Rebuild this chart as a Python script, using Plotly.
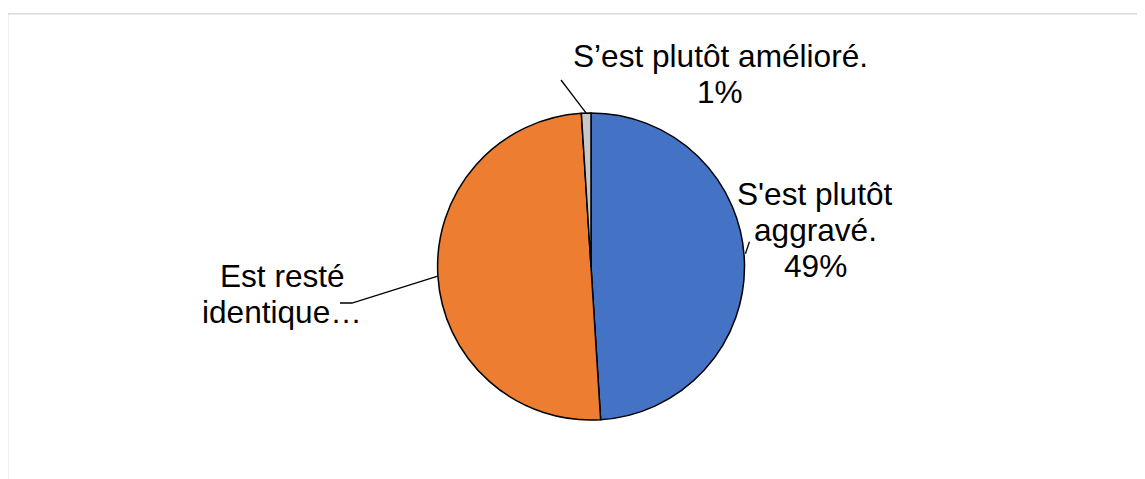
import math
import plotly.graph_objects as go

# ---- data ----
labels = ["S'est plutôt aggravé.", "Est resté identique", "S’est plutôt amélioré."]
values = [49, 50, 1]
label_lines = [
    ["S'est plutôt", "aggravé.", "49%"],
    ["Est resté", "identique…"],
    ["S’est plutôt amélioré.", "1%"],
]
colors = ["#4472C4", "#ED7D31", "#C8C8C8"]

# ---- layout geometry (pixels in the screenshot) ----
W, H = 1145, 479
OFF = 8  # default body margin of the page
CX, CY, R = 591, 266.5, 153.5
FONT = 31.6
LINE_GAP = 36
label_pos = [(815, 231), (282, 294.5), (720, 75)]

def px(x):
    return (x - OFF) / W

def py(y):
    return 1 - (y - OFF) / H

fig = go.Figure(go.Pie(
    labels=labels,
    values=values,
    marker=dict(colors=colors, line=dict(color="black", width=1.5)),
    sort=False,
    direction="clockwise",
    rotation=0,
    textinfo="none",
    hoverinfo="label+percent",
    domain=dict(x=[px(CX - R), px(CX + R)], y=[py(CY + R), py(CY - R)]),
    showlegend=False,
))

annotations = []
for lines, (lx, ly) in zip(label_lines, label_pos):
    n = len(lines)
    for i, t in enumerate(lines):
        yy = ly + (i - (n - 1) / 2) * LINE_GAP - 1
        annotations.append(dict(
            x=px(lx), y=py(yy), xref="paper", yref="paper",
            text=t, showarrow=False, xanchor="center", yanchor="middle",
            font=dict(family="Liberation Sans, Arial, sans-serif", size=FONT, color="#000000"),
        ))

# leader lines from slice mid-angles to labels
total = sum(values)
cum = 0
edge_pts = []
for v in values:
    mid = (cum + v / 2) / total * 360
    cum += v
    a = math.radians(mid)
    edge_pts.append((CX + R * math.sin(a), CY - R * math.cos(a)))

shapes = []
ex, ey = edge_pts[0]
shapes.append(dict(type="line", xref="paper", yref="paper",
                   x0=px(ex + 1), y0=py(ey - 8), x1=px(ex + 5), y1=py(ey - 20),
                   line=dict(color="black", width=1.3)))
ex, ey = edge_pts[1]
shapes.append(dict(type="path", xref="paper", yref="paper",
                   path=f"M {px(340)} {py(303)} L {px(352)} {py(303)} L {px(ex)} {py(ey)}",
                   line=dict(color="black", width=1.3)))
ex, ey = edge_pts[2]
shapes.append(dict(type="line", xref="paper", yref="paper",
                   x0=px(561), y0=py(80), x1=px(ex), y1=py(ey),
                   line=dict(color="black", width=1.3)))
# chart border (top and left visible)
shapes.append(dict(type="rect", xref="paper", yref="paper",
                   x0=px(7.7), y0=py(700), x1=px(1400), y1=py(13.8),
                   line=dict(color="#D9D9D9", width=1.4), fillcolor="rgba(0,0,0,0)"))

fig.update_layout(
    width=W, height=H,
    margin=dict(l=0, r=0, t=0, b=0),
    paper_bgcolor="white", plot_bgcolor="white",
    annotations=annotations, shapes=shapes,
)

fig.write_html("out.html")
